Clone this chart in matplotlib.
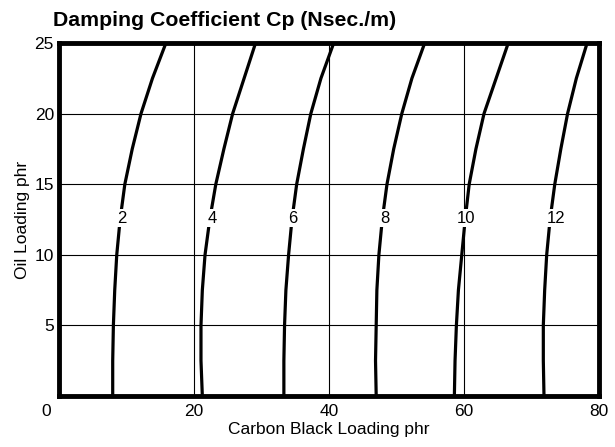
import numpy as np
import matplotlib.pyplot as plt
import matplotlib.transforms as mtransforms

plt.rcParams['font.family'] = ['Liberation Sans', 'DejaVu Sans']

# Oil loading levels where curves were read
oil = [0, 2.5, 5, 7.5, 10, 12.5, 15, 17.5, 20, 22.5, 25]

# Carbon black loading along each Cp contour
cp_2 = [7.9, 7.9, 8.0, 8.2, 8.5, 9.0, 9.7, 10.8, 12.1, 13.8, 15.8]
cp_4 = [21.2, 21.0, 21.0, 21.2, 21.6, 22.3, 23.2, 24.4, 25.7, 27.4, 29.1]
cp_6 = [33.3, 33.3, 33.4, 33.6, 34.0, 34.5, 35.2, 36.2, 37.3, 38.8, 40.7]
cp_8 = [47.0, 46.9, 47.0, 47.1, 47.4, 47.9, 48.6, 49.6, 50.8, 52.3, 54.2]
cp_10 = [58.6, 58.7, 58.9, 59.2, 59.7, 60.2, 60.8, 61.8, 63.0, 64.8, 66.6]
cp_12 = [71.9, 71.8, 71.8, 72.0, 72.3, 72.8, 73.5, 74.4, 75.4, 76.7, 78.3]

curves = [cp_2, cp_4, cp_6, cp_8, cp_10, cp_12]
labels = ['2', '4', '6', '8', '10', '12']
label_x = [9.2, 22.6, 34.6, 48.3, 60.4, 73.7]
label_y = 12.6

fig = plt.figure(figsize=(6.15, 4.47), dpi=100)
ax = fig.add_axes([0.0967, 0.1141, 0.8766, 0.7897])

for cb in curves:
    ax.plot(cb, oil, color='black', lw=2.3, solid_capstyle='butt',
            solid_joinstyle='round', zorder=3)

for lab, lx in zip(labels, label_x):
    ax.text(lx, label_y, lab, ha='center', va='center', fontsize=12, zorder=4,
            bbox=dict(facecolor='white', edgecolor='none', pad=1.0))

ax.set_xlim(0, 80)
ax.set_ylim(0, 25)
ax.set_xticks([0, 20, 40, 60, 80])
ax.set_yticks([5, 10, 15, 20, 25])
ax.grid(True, color='black', lw=0.8)
ax.set_axisbelow(True)
ax.tick_params(length=0, labelsize=12.5)
ax.tick_params(axis='x', pad=6)
ax.tick_params(axis='y', pad=4)

# shift the "0" label left
lbl0 = ax.get_xticklabels()[0]
lbl0.set_transform(lbl0.get_transform() + mtransforms.ScaledTranslation(-13/100, 0, fig.dpi_scale_trans))

for sp in ax.spines.values():
    sp.set_linewidth(3.5)

ax.set_xlabel("Carbon Black Loading phr", fontsize=12.5, labelpad=2)
ax.set_ylabel("Oil Loading phr", fontsize=12.5, labelpad=3)

fig.text(0.086, 0.955, "Damping Coefficient Cp (Nsec./m)", fontsize=15.3,
         fontweight='bold', ha='left', va='center')

fig.savefig("out.png", dpi=100)
